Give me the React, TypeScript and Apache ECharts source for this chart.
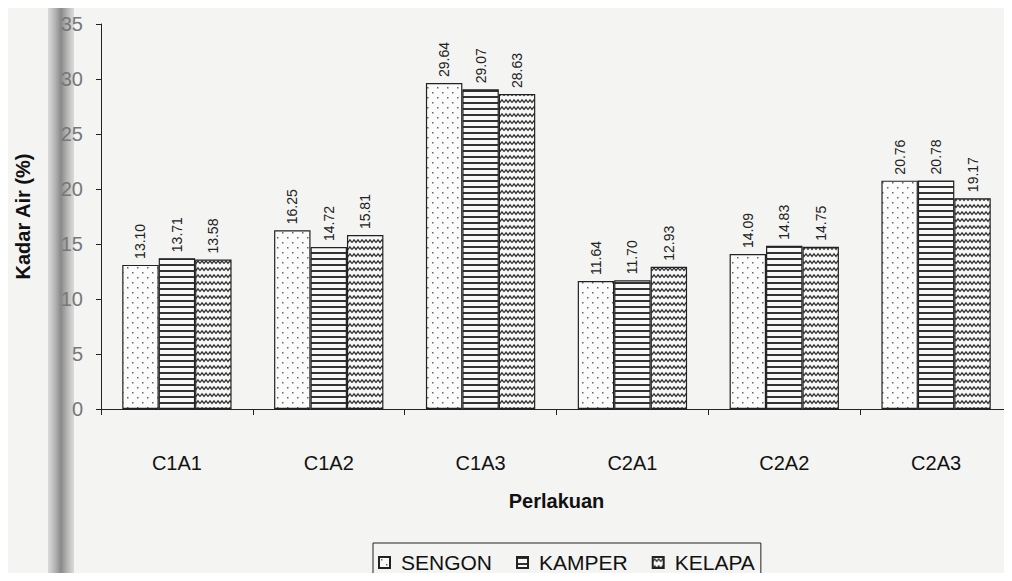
import React, { useEffect, useRef } from "react";
import * as echarts from "echarts";

const categories = ["C1A1", "C1A2", "C1A3", "C2A1", "C2A2", "C2A3"];
const sengon = [13.1, 16.25, 29.64, 11.64, 14.09, 20.76];
const kamper = [13.71, 14.72, 29.07, 11.7, 14.83, 20.78];
const kelapa = [13.58, 15.81, 28.63, 12.93, 14.75, 19.17];
const seriesNames = ["SENGON", "KAMPER", "KELAPA"];

function makePattern(kind: string): HTMLCanvasElement {
  const c = document.createElement("canvas");
  const ctx = c.getContext("2d")!;
  if (kind === "dots") {
    c.width = 10; c.height = 10;
    ctx.fillStyle = "#fbfbfb"; ctx.fillRect(0, 0, 10, 10);
    ctx.fillStyle = "#666";
    ctx.fillRect(2, 2, 1.5, 1.5);
    ctx.fillRect(7, 7, 1.5, 1.5);
  } else if (kind === "hlines") {
    c.width = 8; c.height = 6;
    ctx.fillStyle = "#f8f8f8"; ctx.fillRect(0, 0, 8, 6);
    ctx.fillStyle = "#333";
    ctx.fillRect(0, 0, 8, 2);
  } else {
    c.width = 8; c.height = 7;
    ctx.fillStyle = "#f8f8f8"; ctx.fillRect(0, 0, 8, 7);
    ctx.strokeStyle = "#333"; ctx.lineWidth = 1.3;
    ctx.beginPath();
    ctx.moveTo(0, 4.5);
    ctx.lineTo(2, 1.8);
    ctx.lineTo(4, 4.5);
    ctx.lineTo(6, 1.8);
    ctx.lineTo(8, 4.5);
    ctx.stroke();
  }
  return c;
}

export default function App() {
  const ref = useRef<HTMLDivElement>(null);
  useEffect(() => {
    const chart = echarts.init(ref.current!, null, { renderer: "svg" });
    const patterns = [makePattern("dots"), makePattern("hlines"), makePattern("waves")];
    const dataSets = [sengon, kamper, kelapa];
    const font = "'Liberation Sans', Arial, sans-serif";
    const gapFrac = 0.28;
    const labelRows: number[][] = [];
    categories.forEach((_, ci) => {
      dataSets.forEach((d, si) => labelRows.push([ci, d[ci], si]));
    });
    const barSeries = seriesNames.map((name, i) => ({
      name,
      type: "bar",
      data: dataSets[i],
      barGap: "0%",
      barCategoryGap: gapFrac * 100 + "%",
      itemStyle: {
        color: { image: patterns[i], repeat: "repeat" },
        borderColor: "#222",
        borderWidth: 1.2,
      },
    }));
    chart.setOption({
      animation: false,
      backgroundColor: "#f4f4f2",
      textStyle: { fontFamily: font },
      grid: { left: 101, width: 917, top: 24, bottom: 172 },
      graphic: [
        {
          type: "rect",
          z: 0,
          shape: { x: 48, y: 0, width: 26, height: 581 },
          style: {
            fill: new echarts.graphic.LinearGradient(0, 0, 1, 0, [
              { offset: 0, color: "rgba(200,200,200,0.6)" },
              { offset: 0.5, color: "rgba(130,130,130,0.95)" },
              { offset: 1, color: "rgba(200,200,200,0.6)" },
            ]),
          },
        },
      ],
      legend: {
        bottom: -8,
        left: 373,
        data: seriesNames,
        icon: "rect",
        itemWidth: 11,
        itemHeight: 11,
        itemGap: 24,
        padding: [9, 6, 16, 5],
        borderColor: "#222",
        borderWidth: 1,
        textStyle: { fontSize: 21, color: "#111", fontFamily: font, padding: [0, 0, 0, 6] },
      },
      xAxis: {
        type: "category",
        data: categories,
        name: "Perlakuan",
        nameLocation: "middle",
        nameGap: 82,
        nameTextStyle: { fontSize: 20, fontWeight: "bold", color: "#111" },
        axisLine: { lineStyle: { color: "#222", width: 1 } },
        axisTick: { show: true, length: 6, lineStyle: { color: "#222" } },
        axisLabel: { fontSize: 20, color: "#111", margin: 44 },
      },
      yAxis: {
        type: "value",
        min: 0,
        max: 35,
        interval: 5,
        name: "Kadar Air (%)",
        nameLocation: "middle",
        nameGap: 68,
        nameTextStyle: { fontSize: 20, fontWeight: "bold", color: "#111" },
        splitLine: { show: false },
        axisLine: { show: true, lineStyle: { color: "#222" } },
        axisTick: { show: true, length: 5, lineStyle: { color: "#222" } },
        axisLabel: { fontSize: 20, color: "#777", margin: 18 },
      },
      series: [
        ...barSeries,
        {
          type: "custom",
          name: "labels",
          data: labelRows,
          z: 5,
          silent: true,
          encode: { x: 0, y: 1 },
          renderItem: (params: any, api: any) => {
            const ci = api.value(0);
            const v = api.value(1);
            const si = api.value(2);
            const pt = api.coord([ci, v]);
            const bandW = api.size([1, 0])[0];
            const bw = (bandW * (1 - gapFrac)) / 3;
            const x = pt[0] + (si - 1) * bw;
            return {
              type: "text",
              x: x,
              y: pt[1] - 6,
              rotation: Math.PI / 2,
              style: {
                text: v.toFixed(2),
                fontSize: 14,
                fontFamily: font,
                fill: "#222",
                align: "left",
                verticalAlign: "middle",
              },
            };
          },
        },
      ],
    });
    return () => chart.dispose();
  }, []);
  return <div ref={ref} style={{ width: 1012, height: 581, margin: -8 }} />;
}
